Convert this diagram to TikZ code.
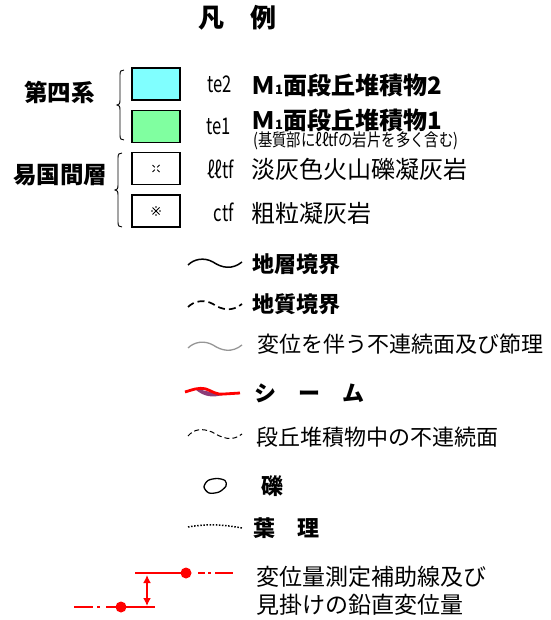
\documentclass[tikz,border=0pt]{standalone}
\usepackage{fontspec}
\setmainfont{Noto Sans CJK JP}
\usetikzlibrary{arrows.meta}
\definecolor{cyanbox}{RGB}{128,255,255}
\definecolor{greenbox}{RGB}{128,255,160}
\definecolor{seampurple}{RGB}{140,60,120}
\definecolor{graywave}{RGB}{150,150,150}
\tikzset{
  lbl/.style={anchor=west, inner sep=0pt, font=\fontsize{22}{24}\selectfont},
  blbl/.style={anchor=west, inner sep=0pt, font=\fontsize{22}{24}\selectfont\bfseries},
  unitlbl/.style={anchor=west, inner sep=0pt, font=\fontsize{24}{26}\selectfont},
  codelbl/.style={anchor=east, inner sep=0pt, font=\fontsize{23}{24}\selectfont},
  unitbox/.style={draw, line width=1.3pt, minimum width=48pt, minimum height=32pt, inner sep=0pt},
  bracepath/.style={line width=0.9pt},
  wave/.style={line width=1.5pt},
  redline/.style={red, line width=2pt},
}
\begin{document}
\begin{tikzpicture}[x=1pt,y=-1pt]
\useasboundingbox (0,0) rectangle (550,620);

% title
\node[inner sep=0pt, font=\fontsize{26}{28}\selectfont\bfseries] (title) at (237,18) {凡　例};

% group labels
\node[anchor=west, inner sep=0pt, font=\fontsize{23.5}{25}\selectfont\bfseries] (daiyon) at (24,92) {第四系};
\node[anchor=west, inner sep=0pt, font=\fontsize{23.5}{25}\selectfont\bfseries] (ekkoku) at (13,175) {易国間層};

% braces
\draw[bracepath] (124,70) .. controls (121,70) and (120,71) .. (120,75) -- (120,100)
  .. controls (120,104) and (119,105) .. (117,105) .. controls (119,105) and (120,106) .. (120,110)
  -- (120,135) .. controls (120,139) and (121,140) .. (124,140);
\draw[bracepath] (122,153) .. controls (119,153) and (118,154) .. (118,158) -- (118,185)
  .. controls (118,189) and (117,190) .. (115,190) .. controls (117,190) and (118,191) .. (118,195)
  -- (118,222) .. controls (118,226) and (119,227) .. (122,227);

% unit boxes
\node[unitbox, fill=cyanbox] (te2box) at (156,84) {};
\node[unitbox, fill=greenbox] (te1box) at (156,126.5) {};
\node[unitbox, fill=white] (lltfbox) at (156,168.5) {};
\node[unitbox, fill=white] (ctfbox) at (156,211) {};

% symbols in boxes
\draw[line width=0.8pt] (152.5,165) -- (154.8,167.3) (159.5,165) -- (157.2,167.3)
  (152.5,172) -- (154.8,169.7) (159.5,172) -- (157.2,169.7);
\draw[line width=0.8pt] (152.5,207.5) -- (159.5,214.5) (159.5,207.5) -- (152.5,214.5);
\fill (156,207) circle (0.8) (156,215) circle (0.8) (152,211) circle (0.8) (160,211) circle (0.8);

% codes
\node[codelbl] (te2) at (232,84) {\scalebox{0.72}[1]{te2}};
\node[codelbl] (te1) at (231,126) {\scalebox{0.72}[1]{te1}};
\node[codelbl] (lltf) at (234,169) {\scalebox{0.72}[1]{ℓℓtf}};
\node[codelbl] (ctf) at (234,212) {\scalebox{0.72}[1]{ctf}};

% unit names
\node[anchor=west, inner sep=0pt, font=\fontsize{24}{26}\selectfont\bfseries] (te2name) at (251,85) {Ｍ{\fontsize{13}{13}\selectfont 1}面段丘堆積物2};
\node[anchor=west, inner sep=0pt, font=\fontsize{24}{26}\selectfont\bfseries] (te1name) at (251,120) {Ｍ{\fontsize{13}{13}\selectfont 1}面段丘堆積物1};
\node[anchor=west, inner sep=0pt, font=\fontsize{17.5}{18}\selectfont] (te1sub) at (253,141) {\scalebox{0.82}[1]{(基質部にℓℓtfの岩片を多く含む)}};
\node[unitlbl] (lltfname) at (251,169) {淡灰色火山礫凝灰岩};
\node[unitlbl] (ctfname) at (251,213) {粗粒凝灰岩};

% line symbols
\draw[wave] (188,265) .. controls (194,259) and (204,257) .. (213,262) .. controls (222,268) and (232,270) .. (242,262);
\node[blbl] (chiso) at (252,264) {地層境界};

\draw[wave, line width=1.7pt, dash pattern=on 7pt off 4pt] (188,307) .. controls (194,301) and (204,299) .. (213,304) .. controls (222,310) and (232,312) .. (242,304);
\node[blbl] (chishitsu) at (252,304) {地質境界};

\draw[wave, graywave, line width=1.3pt] (188,348) .. controls (194,342) and (204,340) .. (213,345) .. controls (222,351) and (232,353) .. (242,345);
\node[lbl] (heni) at (257,344) {変位を伴う不連続面及び節理};

% seam
\fill[seampurple] (195,389) .. controls (205,390) and (212,393) .. (222,395) .. controls (214,397.5) and (204,397.5) .. (195,389) -- cycle;
\draw[red, line width=2.8pt] (185,392) .. controls (192,390) and (198,387) .. (206,389) .. controls (212,391) and (216,395) .. (224,394) -- (240,393);
\node[blbl] (seam) at (254,393) {シ　ー　ム};

% discontinuity in terrace deposits
\draw[line width=1pt, dash pattern=on 5pt off 3pt] (188,436) .. controls (194,429) and (202,428) .. (212,432) .. controls (222,438) and (232,442) .. (242,434);
\node[lbl] (dankyu) at (256,437) {段丘堆積物中の不連続面};

% gravel
\draw[line width=1.3pt] plot[smooth cycle] coordinates {(204,487) (208,480.5) (217,478.5) (225,480.5) (226,486) (219,492) (209,493)};
\node[blbl] (reki) at (261,486) {礫};

% lamina
\draw[line width=1.5pt, dash pattern=on 1.5pt off 1.6pt] (188,527) .. controls (205,524) and (220,524) .. (242,528);
\node[blbl] (yori) at (253,528) {葉　理};

% displacement measurement lines
\coordinate (upA) at (135,573);
\coordinate (upDot) at (186,573);
\coordinate (loDot) at (121,607);
\coordinate (loB) at (155,607);
\draw[redline] (upA) -- (upDot);
\draw[redline] (198,573) -- (205,573) (208,573) -- (211,573) (215,573) -- (233,573);
\fill[red] (upDot) circle (5.5);
\draw[redline] (74,607) -- (93,607) (97,607) -- (100,607) (106,607) -- (loB);
\fill[red] (loDot) circle (5.5);
\draw[red, line width=2.2pt, {Latex[length=8pt,width=8pt]}-{Latex[length=8pt,width=8pt]}] (147,575) -- (147,606);
\node[anchor=west, inner sep=0pt, font=\fontsize{23}{24}\selectfont] (henir1) at (256,577) {変位量測定補助線及び};
\node[anchor=west, inner sep=0pt, font=\fontsize{23}{24}\selectfont] (henir2) at (256,605) {見掛けの鉛直変位量};
\end{tikzpicture}
\end{document}
